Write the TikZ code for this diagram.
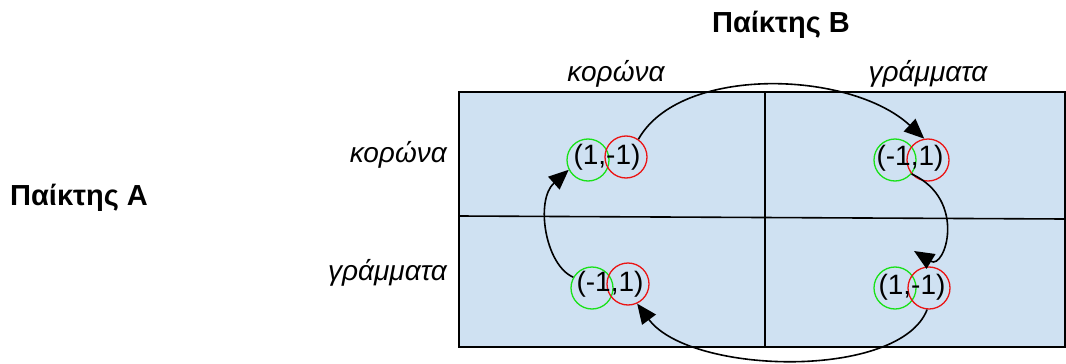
\documentclass[tikz,border=0pt]{standalone}
\usepackage{fontspec}
\setmainfont{Liberation Sans}
\usepackage{xcolor}
\usepackage{tikz}
\usetikzlibrary{arrows.meta, positioning}

\definecolor{cellblue}{RGB}{207,225,242}
\definecolor{payA}{RGB}{25,225,25}
\definecolor{payB}{RGB}{235,20,20}

\begin{document}
\begin{tikzpicture}[x=1pt, y=-1pt,
    player/.style={font=\fontsize{29}{31}\selectfont\bfseries, inner sep=0pt},
    move/.style={font=\fontsize{28}{30}\selectfont\itshape, inner sep=0pt},
    payoff/.style={font=\fontsize{28}{30}\selectfont, inner sep=0pt},
    ringA/.style={circle, draw=payA, line width=1.3pt, minimum size=42pt, inner sep=0pt},
    ringB/.style={circle, draw=payB, line width=1.3pt, minimum size=42pt, inner sep=0pt},
    grid/.style={draw=black, line width=1.6pt},
    flow/.style={-{Triangle[length=20pt,width=17pt]}, line width=1.6pt}]

    \useasboundingbox (0,0) rectangle (1066,364);

    % payoff table
    \fill [cellblue] (459,92) rectangle (1065,347);
    \draw [grid] (459,92) rectangle (1065,347);
    \draw [grid] (765,92) -- (765,347);
    \draw [grid] (459,216) -- (1065,219);

    % players and their moves
    \node [player, anchor=base] (pB) at (781,32) {Παίκτης Β};
    \node [player, anchor=base west] (pA) at (10,205) {Παίκτης Α};
    \node [move] (bHead) at (616,74) {κορώνα};
    \node [move] (bTail) at (928,74) {γράμματα};
    \node [move, anchor=east] (aHead) at (447,155) {κορώνα};
    \node [move, anchor=east] (aTail) at (447,273) {γράμματα};

    % payoffs: green circle for A, red circle for B
    \node [ringA] (g11) at (588,160) {};
    \node [ringB] (r11) at (626,157) {};
    \node [payoff] (p11) at (607,157) {(1,-1)};

    \node [ringA] (g12) at (895,160) {};
    \node [ringB] (r12) at (928,160) {};
    \node [payoff] (p12) at (910,158) {(-1,1)};

    \node [ringA] (g21) at (592,288) {};
    \node [ringB] (r21) at (628,284) {};
    \node [payoff] (p21) at (610,284) {(-1,1)};

    \node [ringA] (g22) at (895,288) {};
    \node [ringB] (r22) at (929,288) {};
    \node [payoff] (p22) at (912,287) {(1,-1)};

    \coordinate (t22) at (914,251);

    % best responses cycling round the table
    \draw [flow] (r11.55) .. controls (680,65) and (850,70) .. (r12.100);
    \draw [flow] (g12.-40) .. controls (968,200) and (945,270) .. (t22);
    \draw [flow] (r22.-95) .. controls (900,380) and (690,375) .. (r21.-65);
    \draw [flow] (g21.150) .. controls (545,265) and (535,200) .. (g11.207);
\end{tikzpicture}
\end{document}
